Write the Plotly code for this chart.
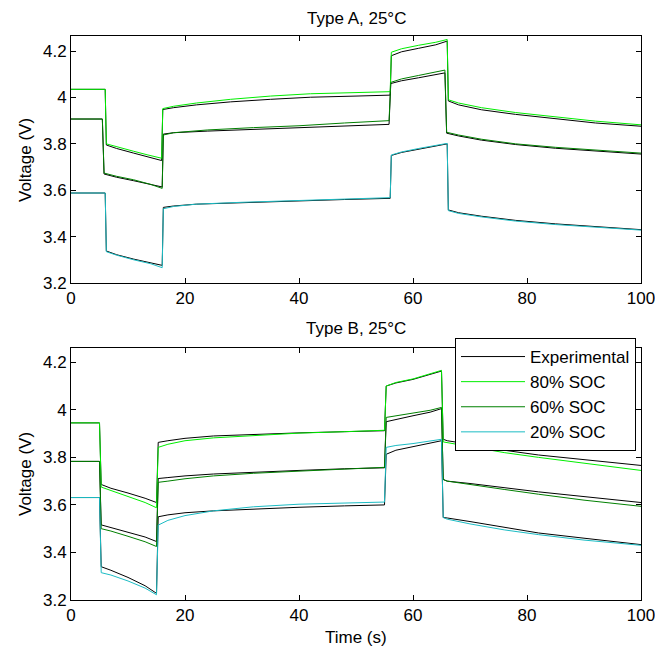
import plotly.graph_objects as go

# ---------------- data ----------------
# Type A (top panel)
tA80 = [0, 6.0, 6.2, 8, 11, 13.5, 15.9, 16.1, 18, 22, 28, 35, 42, 50, 56, 56.2, 58, 61, 64, 66, 66.2, 68, 72, 78, 85, 92, 100]
A80_model = [4.035, 4.035, 3.80, 3.787, 3.768, 3.752, 3.738, 3.952, 3.962, 3.976, 3.992, 4.006, 4.016, 4.021, 4.025, 4.195, 4.21, 4.225, 4.238, 4.25, 3.99, 3.976, 3.956, 3.935, 3.915, 3.898, 3.882]
A80_exp = [4.035, 4.035, 3.795, 3.78, 3.76, 3.745, 3.728, 3.948, 3.956, 3.968, 3.981, 3.992, 4.001, 4.006, 4.01, 4.18, 4.197, 4.212, 4.227, 4.243, 3.985, 3.968, 3.947, 3.927, 3.907, 3.89, 3.876]

tA60 = [0, 5.5, 5.8, 8, 11, 14, 16.0, 16.2, 18, 24, 32, 40, 48, 55.8, 56.1, 58, 61, 64, 65.6, 65.9, 68, 72, 78, 85, 92, 100]
A60_model = [3.907, 3.907, 3.674, 3.66, 3.645, 3.625, 3.608, 3.838, 3.848, 3.86, 3.87, 3.878, 3.89, 3.90, 4.065, 4.08, 4.095, 4.108, 4.118, 3.85, 3.838, 3.82, 3.80, 3.785, 3.772, 3.76]
A60_exp = [3.907, 3.907, 3.67, 3.656, 3.641, 3.625, 3.614, 3.842, 3.848, 3.855, 3.862, 3.868, 3.875, 3.884, 4.06, 4.072, 4.085, 4.097, 4.106, 3.846, 3.834, 3.816, 3.797, 3.781, 3.768, 3.756]

tA20 = [0, 6.0, 6.2, 8, 11, 14, 16.0, 16.2, 18, 22, 30, 40, 48, 56, 56.2, 58, 61, 64, 66, 66.2, 68, 72, 78, 85, 92, 100]
A20_model = [3.588, 3.588, 3.335, 3.32, 3.30, 3.283, 3.266, 3.52, 3.53, 3.54, 3.548, 3.556, 3.562, 3.568, 3.752, 3.765, 3.78, 3.792, 3.802, 3.512, 3.50, 3.485, 3.467, 3.452, 3.44, 3.428]
A20_exp = [3.588, 3.588, 3.338, 3.322, 3.303, 3.288, 3.276, 3.526, 3.532, 3.54, 3.547, 3.554, 3.56, 3.565, 3.75, 3.763, 3.777, 3.79, 3.80, 3.515, 3.503, 3.488, 3.47, 3.455, 3.443, 3.43]

# Type B (bottom panel)
tB = [0, 5.0, 5.3, 7, 10, 13, 15.0, 15.3, 17, 20, 25, 32, 40, 48, 55.0, 55.3, 57, 60, 63, 65.0, 65.3, 66, 70, 76, 82, 90, 100]
B80_model = [3.945, 3.945, 3.675, 3.66, 3.635, 3.61, 3.588, 3.842, 3.855, 3.87, 3.882, 3.892, 3.902, 3.908, 3.914, 4.10, 4.115, 4.13, 4.15, 4.166, 3.865, 3.862, 3.845, 3.82, 3.80, 3.775, 3.745]
B80_exp = [3.945, 3.945, 3.686, 3.67, 3.65, 3.628, 3.61, 3.863, 3.87, 3.88, 3.89, 3.897, 3.903, 3.908, 3.912, 4.10, 4.113, 4.128, 4.148, 4.163, 3.876, 3.87, 3.855, 3.83, 3.81, 3.79, 3.766]
B60_model = [3.783, 3.783, 3.50, 3.49, 3.468, 3.445, 3.425, 3.695, 3.70, 3.71, 3.722, 3.733, 3.742, 3.752, 3.758, 3.968, 3.975, 3.985, 3.998, 4.01, 3.707, 3.70, 3.685, 3.665, 3.645, 3.62, 3.594]
B60_exp = [3.783, 3.783, 3.516, 3.505, 3.485, 3.465, 3.446, 3.711, 3.715, 3.722, 3.73, 3.738, 3.745, 3.752, 3.756, 3.95, 3.96, 3.975, 3.99, 4.005, 3.707, 3.70, 3.69, 3.672, 3.655, 3.635, 3.61]
B20_model = [3.631, 3.631, 3.315, 3.305, 3.28, 3.25, 3.222, 3.515, 3.535, 3.555, 3.575, 3.592, 3.603, 3.608, 3.612, 3.842, 3.85, 3.858, 3.868, 3.876, 3.547, 3.54, 3.52, 3.495, 3.475, 3.452, 3.43]
B20_exp = [3.631, 3.631, 3.34, 3.325, 3.295, 3.26, 3.228, 3.55, 3.558, 3.567, 3.575, 3.583, 3.59, 3.596, 3.60, 3.813, 3.83, 3.845, 3.86, 3.87, 3.547, 3.545, 3.53, 3.505, 3.482, 3.46, 3.433]

x_ticks = [0, 20, 40, 60, 80, 100]
y_ticks = [3.2, 3.4, 3.6, 3.8, 4.0, 4.2]
y_ticktext = ["3.2", "3.4", "3.6", "3.8", "4", "4.2"]

titles = ["Type A, 25°C", "Type B, 25°C"]
legend_names = ["Experimental", "80% SOC", "60% SOC", "20% SOC"]

# ---------------- style ----------------
FONT = "Liberation Sans, Arial, sans-serif"
C_EXP = "#000000"
C80 = "#00ee00"
C60 = "#008000"
C20 = "#1cbcc4"

fig = go.Figure()

panels = [
    ("x", "y", [(tA80, A80_model, A80_exp, C80), (tA60, A60_model, A60_exp, C60), (tA20, A20_model, A20_exp, C20)]),
    ("x2", "y2", [(tB, B80_model, B80_exp, C80), (tB, B60_model, B60_exp, C60), (tB, B20_model, B20_exp, C20)]),
]

for pi, (xa, ya, groups) in enumerate(panels):
    for gi, (t, mod, exp, col) in enumerate(groups):
        show_exp = (pi == 1 and gi == 0)
        fig.add_trace(go.Scatter(x=t, y=exp, mode="lines", xaxis=xa, yaxis=ya,
                                 line=dict(color=C_EXP, width=1),
                                 name=legend_names[0], showlegend=show_exp, legendrank=1))
    for gi, (t, mod, exp, col) in enumerate(groups):
        fig.add_trace(go.Scatter(x=t, y=mod, mode="lines", xaxis=xa, yaxis=ya,
                                 line=dict(color=col, width=1),
                                 name=legend_names[gi + 1], showlegend=(pi == 1), legendrank=gi + 2))

L, R, T, B = 71, 14, 36, 50
W, H = 655, 650
PW, PH = W - L - R, H - T - B


def px_x(px):
    return (px - L) / PW


def px_y(py):
    return (H - B - py) / PH


axis_common = dict(showline=True, linecolor="black", linewidth=1, mirror="ticks",
                   ticks="inside", ticklen=5, tickcolor="black", tickwidth=1,
                   showgrid=False, zeroline=False, ticklabeloverflow="allow",
                   automargin=False,
                   tickfont=dict(family=FONT, size=17, color="black"))

fig.update_layout(
    width=W, height=H,
    margin=dict(l=L, r=R, t=T, b=B),
    paper_bgcolor="white", plot_bgcolor="white",
    font=dict(family=FONT, size=17, color="black"),
    xaxis=dict(domain=[0, 1], range=[0, 100], tickvals=x_ticks, anchor="y", **axis_common),
    yaxis=dict(domain=[px_y(283), 1], range=[3.2, 4.265], tickvals=y_ticks, ticktext=y_ticktext,
               anchor="x", **axis_common),
    xaxis2=dict(domain=[0, 1], range=[0, 100], tickvals=x_ticks, anchor="y2", **axis_common),
    yaxis2=dict(domain=[0, px_y(348)], range=[3.2, 4.26], tickvals=y_ticks, ticktext=y_ticktext,
                anchor="x2", **axis_common),
    showlegend=True,
    legend=dict(x=px_x(636), y=px_y(338), xanchor="right", yanchor="top",
                bgcolor="white", bordercolor="black", borderwidth=1,
                font=dict(family=FONT, size=17, color="black"),
                itemwidth=64, tracegroupgap=0),
)

annotations = [
    dict(text=titles[0], x=px_x(356), y=px_y(18)),
    dict(text=titles[1], x=px_x(356), y=px_y(328)),
    dict(text="Time (s)", x=px_x(356), y=px_y(637)),
    dict(text="Voltage (V)", x=px_x(25), y=px_y(160), textangle=-90),
    dict(text="Voltage (V)", x=px_x(25), y=px_y(474), textangle=-90),
]
for a in annotations:
    fig.add_annotation(xref="paper", yref="paper", xanchor="center", yanchor="middle",
                       showarrow=False, font=dict(family=FONT, size=17, color="black"), **a)

fig.write_html("out.html")
